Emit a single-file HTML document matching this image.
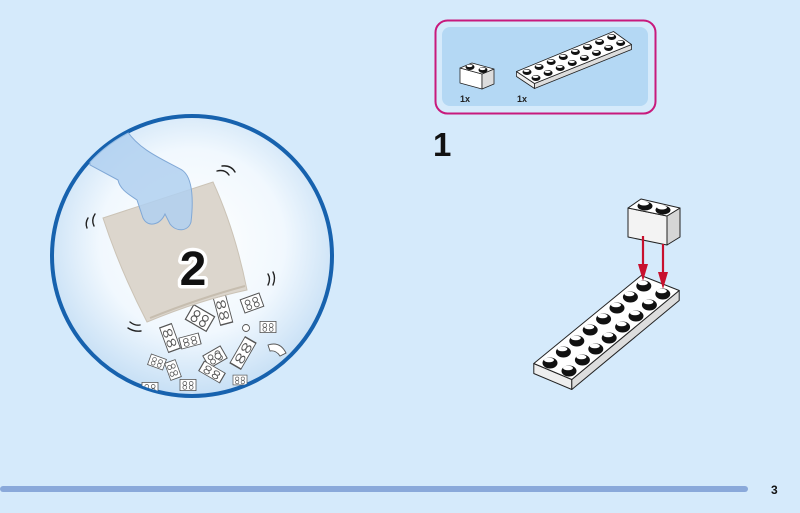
<!DOCTYPE html>
<html><head><meta charset="utf-8"><style>
html,body{margin:0;padding:0;background:#d5eafb;}
svg{display:block}
</style></head><body>
<svg width="800" height="513" viewBox="0 0 800 513" xmlns="http://www.w3.org/2000/svg">
<defs>
<radialGradient id="cg" cx="50%" cy="45%" r="55%">
<stop offset="0" stop-color="#ffffff"/><stop offset="0.6" stop-color="#f1f8fe"/><stop offset="1" stop-color="#c6dff5"/>
</radialGradient>
<clipPath id="cc"><circle cx="192" cy="256" r="139"/></clipPath>
<g id="sb"><rect x="-10" y="-7" width="20" height="14" fill="#fff" stroke="#555" stroke-width="1"/><circle cx="-4" cy="-2" r="2.4" fill="none" stroke="#555" stroke-width="0.9"/><circle cx="4" cy="-2" r="2.4" fill="none" stroke="#555" stroke-width="0.9"/><circle cx="-4" cy="3" r="2.4" fill="none" stroke="#555" stroke-width="0.9"/><circle cx="4" cy="3" r="2.4" fill="none" stroke="#555" stroke-width="0.9"/></g>
</defs>
<rect width="800" height="513" fill="#d5eafb"/>
<circle cx="192" cy="256" r="140" fill="url(#cg)" stroke="#1762ae" stroke-width="4"/>
<g clip-path="url(#cc)">
<g>
<use href="#sb" transform="translate(170,338) rotate(70) scale(1.3,0.9)"/>
<use href="#sb" transform="translate(200,318) rotate(30) scale(1.2)"/>
<use href="#sb" transform="translate(223,310) rotate(75) scale(1.4,0.9)"/>
<use href="#sb" transform="translate(252,303) rotate(-20) scale(1)"/>
<use href="#sb" transform="translate(268,327) scale(0.8)"/>
<use href="#sb" transform="translate(190,341) rotate(-15) scale(1,0.8)"/>
<use href="#sb" transform="translate(215,357) rotate(-30) scale(1)"/>
<use href="#sb" transform="translate(243,353) rotate(-60) scale(1.5,0.9)"/>
<use href="#sb" transform="translate(157,362) rotate(20) scale(0.8)"/>
<use href="#sb" transform="translate(173,370) rotate(70) scale(0.9,0.8)"/>
<use href="#sb" transform="translate(212,372) rotate(30) scale(1.2,0.8)"/>
<use href="#sb" transform="translate(188,385) scale(0.8)"/>
<use href="#sb" transform="translate(150,388) scale(0.8)"/>
<use href="#sb" transform="translate(240,380) scale(0.7)"/>
<circle cx="246" cy="328" r="3.5" fill="#fff" stroke="#555" stroke-width="0.9"/>
<circle cx="218" cy="356" r="3" fill="#fff" stroke="#555" stroke-width="0.9"/>
<path d="M268,345 q12,-4 18,8 l-6,3 q-4,-6 -10,-5z" fill="#fff" stroke="#555" stroke-width="0.9"/>
</g>
<path d="M103,218 L213,182 Q235,230 247,290 Q200,300 147,322 Q120,270 103,218z" fill="#dcd6cd" stroke="#cbc3b6" stroke-width="1"/>
<path d="M150,318 Q200,298 245,286" fill="none" stroke="#c6bdaf" stroke-width="2"/>
<path d="M127,131 C140,150 160,158 182,170 C194,178 193,205 191,222 C188,232 176,232 170,224 L165,214 C160,225 148,228 143,218 L137,200 C130,195 120,190 118,180 L90,165 L88,130 Z" fill="#b0d0f0" fill-opacity="0.85" stroke="#80a8d6" stroke-width="1"/>
<g fill="none" stroke="#222" stroke-width="1.4" stroke-linecap="round">
<path d="M217,171 q8,-2 12,4"/><path d="M222,166 q9,-1 13,6"/>
<path d="M88,218 q-3,5 -1,10"/><path d="M95,214 q-4,6 -1,12"/>
<path d="M268,274 q3,5 0,11"/><path d="M273,272 q3,6 0,13"/>
<path d="M130,322 q5,4 10,3"/><path d="M128,328 q6,4 13,3"/>
</g>
<text x="193" y="285" font-family="Liberation Sans, sans-serif" font-weight="bold" font-size="48" text-anchor="middle" fill="#111" stroke="#fff" stroke-width="7" paint-order="stroke" stroke-linejoin="round">2</text>
</g>
<rect x="435.5" y="20.5" width="220" height="93" rx="12" fill="#d5eafb" stroke="#c81a7d" stroke-width="2"/>
<rect x="442" y="27" width="206" height="79" rx="8" fill="#b4d8f4"/>
<g stroke="#222" stroke-width="0.8" stroke-linejoin="round">
<polygon points="460,68 482,74 482,89 460,83" fill="#fff"/>
<polygon points="482,74 494,69 494,84 482,89" fill="#ddd"/>
<polygon points="460,68 482,74 494,69 472,63" fill="#fff"/>
</g>
<g fill="#111"><ellipse cx="470" cy="67" rx="4.5" ry="3"/><ellipse cx="483" cy="70" rx="4.5" ry="3"/></g>
<g fill="#fff"><ellipse cx="469.5" cy="65.8" rx="3" ry="1.3"/><ellipse cx="482.5" cy="68.8" rx="3" ry="1.3"/></g>
<g stroke="#222" stroke-width="0.8" stroke-linejoin="round">
<polygon points="516.5,71.5 534.5,83.5 534.5,88.5 516.5,76.5" fill="#eee"/>
<polygon points="534.5,83.5 631.5,44.5 631.5,49.5 534.5,88.5" fill="#ddd"/>
<polygon points="516.5,71.5 534.5,83.5 631.5,44.5 613.5,31.5" fill="#fff"/>
</g>
<g fill="#111">
<ellipse cx="527" cy="72" rx="4.5" ry="3"/><ellipse cx="539.1" cy="67" rx="4.5" ry="3"/><ellipse cx="551.2" cy="62" rx="4.5" ry="3"/><ellipse cx="563.3" cy="57" rx="4.5" ry="3"/><ellipse cx="575.4" cy="52" rx="4.5" ry="3"/><ellipse cx="587.5" cy="47" rx="4.5" ry="3"/><ellipse cx="599.6" cy="42" rx="4.5" ry="3"/><ellipse cx="611.7" cy="37" rx="4.5" ry="3"/>
<ellipse cx="536" cy="78" rx="4.5" ry="3"/><ellipse cx="548.1" cy="73" rx="4.5" ry="3"/><ellipse cx="560.2" cy="68" rx="4.5" ry="3"/><ellipse cx="572.3" cy="63" rx="4.5" ry="3"/><ellipse cx="584.4" cy="58" rx="4.5" ry="3"/><ellipse cx="596.5" cy="53" rx="4.5" ry="3"/><ellipse cx="608.6" cy="48" rx="4.5" ry="3"/><ellipse cx="620.7" cy="43" rx="4.5" ry="3"/>
</g>
<g fill="#fff">
<ellipse cx="526.5" cy="70.8" rx="3" ry="1.2"/><ellipse cx="538.6" cy="65.8" rx="3" ry="1.2"/><ellipse cx="550.7" cy="60.8" rx="3" ry="1.2"/><ellipse cx="562.8" cy="55.8" rx="3" ry="1.2"/><ellipse cx="574.9" cy="50.8" rx="3" ry="1.2"/><ellipse cx="587" cy="45.8" rx="3" ry="1.2"/><ellipse cx="599.1" cy="40.8" rx="3" ry="1.2"/><ellipse cx="611.2" cy="35.8" rx="3" ry="1.2"/>
<ellipse cx="535.5" cy="76.8" rx="3" ry="1.2"/><ellipse cx="547.6" cy="71.8" rx="3" ry="1.2"/><ellipse cx="559.7" cy="66.8" rx="3" ry="1.2"/><ellipse cx="571.8" cy="61.8" rx="3" ry="1.2"/><ellipse cx="583.9" cy="56.8" rx="3" ry="1.2"/><ellipse cx="596" cy="51.8" rx="3" ry="1.2"/><ellipse cx="608.1" cy="46.8" rx="3" ry="1.2"/><ellipse cx="620.2" cy="41.8" rx="3" ry="1.2"/>
</g>
<g font-family="Liberation Sans, sans-serif" font-weight="bold" font-size="9" fill="#222">
<text x="460" y="102">1x</text><text x="517" y="102">1x</text>
</g>
<text x="433" y="156" font-family="Liberation Sans, sans-serif" font-weight="bold" font-size="33" fill="#111">1</text>
<g stroke="#222" stroke-width="1" stroke-linejoin="round">
<polygon points="533.8,363.5 571.8,379.5 571.8,389.5 533.8,373.5" fill="#eee"/>
<polygon points="571.8,379.5 679.2,290.5 679.2,300.5 571.8,389.5" fill="#ddd"/>
<polygon points="533.8,363.5 571.8,379.5 679.2,290.5 641.2,275.5" fill="#fff"/>
</g>
<g fill="#111">
<ellipse cx="550" cy="363" rx="7.5" ry="5.5"/><ellipse cx="563.4" cy="352" rx="7.5" ry="5.5"/><ellipse cx="576.8" cy="341" rx="7.5" ry="5.5"/><ellipse cx="590.2" cy="330" rx="7.5" ry="5.5"/><ellipse cx="603.6" cy="319" rx="7.5" ry="5.5"/><ellipse cx="617" cy="308" rx="7.5" ry="5.5"/><ellipse cx="630.4" cy="297" rx="7.5" ry="5.5"/><ellipse cx="643.8" cy="286" rx="7.5" ry="5.5"/>
<ellipse cx="569" cy="371" rx="7.5" ry="5.5"/><ellipse cx="582.4" cy="360" rx="7.5" ry="5.5"/><ellipse cx="595.8" cy="349" rx="7.5" ry="5.5"/><ellipse cx="609.2" cy="338" rx="7.5" ry="5.5"/><ellipse cx="622.6" cy="327" rx="7.5" ry="5.5"/><ellipse cx="636" cy="316" rx="7.5" ry="5.5"/><ellipse cx="649.4" cy="305" rx="7.5" ry="5.5"/><ellipse cx="662.8" cy="294" rx="7.5" ry="5.5"/>
</g>
<g fill="#fff">
<ellipse cx="549" cy="360" rx="5" ry="2.3"/><ellipse cx="562.4" cy="349" rx="5" ry="2.3"/><ellipse cx="575.8" cy="338" rx="5" ry="2.3"/><ellipse cx="589.2" cy="327" rx="5" ry="2.3"/><ellipse cx="602.6" cy="316" rx="5" ry="2.3"/><ellipse cx="616" cy="305" rx="5" ry="2.3"/><ellipse cx="629.4" cy="294" rx="5" ry="2.3"/><ellipse cx="642.8" cy="283" rx="5" ry="2.3"/>
<ellipse cx="568" cy="368" rx="5" ry="2.3"/><ellipse cx="581.4" cy="357" rx="5" ry="2.3"/><ellipse cx="594.8" cy="346" rx="5" ry="2.3"/><ellipse cx="608.2" cy="335" rx="5" ry="2.3"/><ellipse cx="621.6" cy="324" rx="5" ry="2.3"/><ellipse cx="635" cy="313" rx="5" ry="2.3"/><ellipse cx="648.4" cy="302" rx="5" ry="2.3"/><ellipse cx="661.8" cy="291" rx="5" ry="2.3"/>
</g>
<g stroke="#222" stroke-width="1" stroke-linejoin="round">
<polygon points="628,208 667,216 667,245 628,237" fill="#f3f3f3"/>
<polygon points="667,216 680,208 680,237 667,245" fill="#d6d6d6"/>
<polygon points="628,208 667,216 680,208 641,199" fill="#fff"/>
</g>
<g fill="#111"><ellipse cx="645" cy="206" rx="7.5" ry="4.5"/><ellipse cx="663" cy="210" rx="7.5" ry="4.5"/></g>
<g fill="#fff"><ellipse cx="644" cy="203.5" rx="5" ry="2"/><ellipse cx="662" cy="207.5" rx="5" ry="2"/></g>
<g stroke="#c8102e" stroke-width="2.2"><line x1="643" y1="236" x2="643" y2="268"/><line x1="663" y1="244" x2="663" y2="276"/></g>
<g fill="#c8102e"><polygon points="638,264 648,264 643,281"/><polygon points="658,272 668,272 663,289"/></g>
<rect x="0" y="486" width="748" height="6" rx="3" fill="#8aa9da"/>
<text x="771" y="494" font-family="Liberation Sans, sans-serif" font-weight="bold" font-size="12" fill="#111">3</text>
</svg>
</body></html>
